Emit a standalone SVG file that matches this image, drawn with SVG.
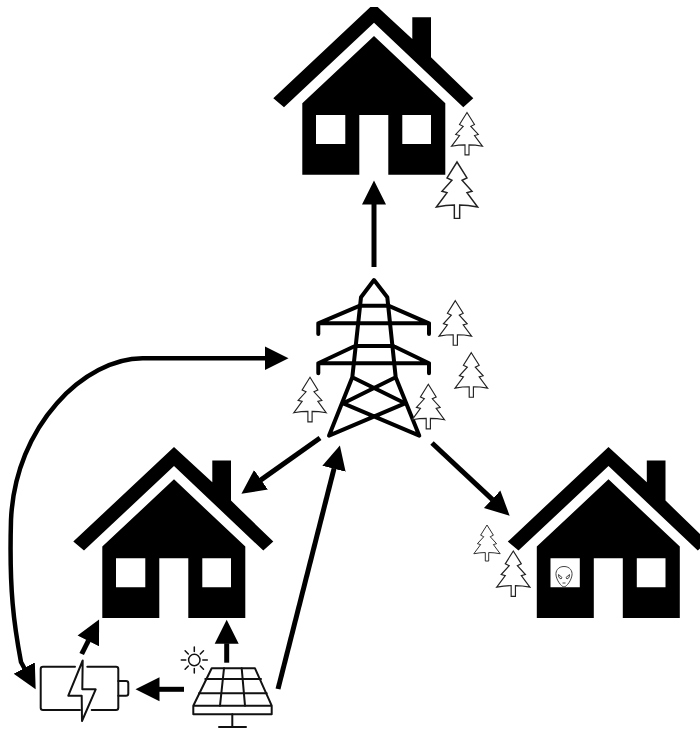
<svg xmlns="http://www.w3.org/2000/svg" width="700" height="730" viewBox="0 0 700 730">
  <style>
    .conn { fill: none; stroke: #000; stroke-width: 5; marker-end: url(#head); }
    .both { stroke-width: 4.5; marker-start: url(#head); }
    .tree { fill: #fff; stroke: #222; stroke-width: 1.1; stroke-linejoin: miter; }
    .tower { fill: none; stroke: #000; stroke-width: 4; stroke-linejoin: round; stroke-linecap: round; }
    .icon { fill: none; stroke: #111; stroke-width: 2; stroke-linejoin: round; stroke-linecap: round; }
  </style>
  <defs>
    <marker id="head" markerUnits="userSpaceOnUse" markerWidth="26" markerHeight="26" viewBox="0 0 26 26" refX="0.5" refY="13" orient="auto-start-reverse">
      <path d="M0,1 L24,13 L0,25 Z" fill="#000"/>
    </marker>
    <clipPath id="topclip"><rect x="0" y="7" width="700" height="723"/></clipPath>
    <g id="house">
      <path fill="#000" d="M273.3,98.3 L374,3.6 L412.3,39 V17.3 H431 V57.3 L473.3,98.3 L463.3,107.3 L374,22.7 L284,107.3 Z"/>
      <path fill="#000" fill-rule="evenodd" d="M374,36 L445.3,103.3 V174.7 H388.3 V115 H359.3 V174.7 H302.3 V103.3 Z M316,115 H345.3 V144 H316 Z M402.3,115 H431 V144 H402.3 Z"/>
    </g>
    <path id="tree" class="tree" d="M0,0 L7.5,12 L3.8,13.8 L11.3,22 L7.5,23 L15.5,33.8 Q8,32.4 2,32.4 V42.4 H-2 V32.4 Q-8,32.4 -15.5,33.8 L-7.5,23 L-11.3,22 L-3.8,13.8 L-7.5,12 Z"/>
  </defs>
  <rect width="700" height="730" fill="#fff"/>

  <g id="connectors">
    <path class="conn" d="M374,267 V204"/>
    <path class="conn both" d="M265,358.3 H143 C85,358 15,425 11,520 C9,590 14,625 21,662 L24.5,668.5"/>
    <path class="conn" d="M320,438 L260.6,480.1"/>
    <path class="conn" d="M432,443 L492.5,499.6"/>
    <path class="conn" d="M278,689 L334.1,468.3"/>
    <path class="conn" d="M81.7,654 L88.5,640.5"/>
    <path class="conn" d="M226.7,662.7 V643.3"/>
    <path class="conn" d="M184,689.3 H159"/>
  </g>

  <g id="house-top"><use href="#house" clip-path="url(#topclip)"/></g>
  <g id="house-left"><use href="#house" transform="translate(-200,443.3)"/></g>
  <g id="house-right">
    <use href="#house" transform="translate(234.5,443.3)"/>
    <g id="alien" fill="none" stroke="#444" stroke-width="1">
      <path d="M564,566.5 C570,566.5 572.5,571 572,575 C571.5,580 567,586.5 564,587 C561,586.5 556.5,580 556,575 C555.5,571 558,566.5 564,566.5 Z"/>
      <path d="M558.5,574.5 L562,577.5 L561,579 Q558,578 558.5,574.5 Z M569.5,574.5 L566,577.5 L567,579 Q570,578 569.5,574.5 Z"/>
      <path d="M562.5,583 H565.5"/>
    </g>
  </g>

  <g id="tower">
    <path class="tower" d="M352.3,377.3 L361,297.3 L374,280 L387.3,297.3 L395.7,377.3 L419.3,435.7 L343.3,403.3 L395.7,377.3 M352.3,377.3 L329,435.7 L405,403.3 L352.3,377.3"/>
    <path class="tower" d="M360,305.7 H388.3 M318.3,334 V323.3 H429 V334 M318.3,323.3 L360,305.7 M388.3,305.7 L429,323.3"/>
    <path class="tower" d="M355,346 H393.3 M318.3,373.3 V363.3 H429 V373.3 M318.3,363.3 L355,346 M393.3,346 L429,363.3"/>
  </g>

  <g id="trees-top">
    <use href="#tree" transform="translate(467,112.5)"/>
    <use href="#tree" transform="translate(457,162) scale(1.33)"/>
  </g>
  <g id="trees-tower">
    <use href="#tree" transform="translate(455.3,300.7) scale(1.05)"/>
    <use href="#tree" transform="translate(471.3,352.7) scale(1.05)"/>
    <use href="#tree" transform="translate(310,377.3) scale(1.05)"/>
    <use href="#tree" transform="translate(428.3,384.3) scale(1.05)"/>
  </g>
  <g id="trees-right">
    <use href="#tree" transform="translate(487,525) scale(0.85)"/>
    <use href="#tree" transform="translate(513.3,551) scale(1.07)"/>
  </g>

  <g id="battery">
    <path class="icon" d="M75,666.7 H43 Q40.7,666.7 40.7,669 V707.7 Q40.7,710 43,710 H80 M91.7,710 H116 Q118.3,710 118.3,707.7 V669 Q118.3,666.7 116,666.7 H87.3"/>
    <path class="icon" d="M118.3,681 H126 Q128.3,681 128.3,683.3 V693.4 Q128.3,695.7 126,695.7 H118.3"/>
    <path class="icon" d="M82.7,660.5 L68.3,695.7 H81.7 L82,721 L95.7,689.3 H82.3 Z"/>
  </g>

  <g id="solar-panel">
    <path class="icon" d="M211.7,668.3 H255 L271.7,705.7 H193.3 Z M193.3,705.7 V714.3 H271.7 V705.7"/>
    <path class="icon" d="M205.3,679 H261 M199,693.3 H266.7 M224,668.3 L220,705.7 M241.7,668.3 L245,705.7"/>
    <path class="icon" d="M232.3,714.3 V727 M219,727 H246"/>
  </g>

  <g id="sun" fill="none" stroke="#111" stroke-width="1.5" stroke-linecap="round">
    <circle cx="194.3" cy="660" r="5.7"/>
    <path d="M194.3,647 V651.5 M194.3,668.5 V673 M181.3,660 H185.8 M202.8,660 H207.3 M185.1,650.8 L188.3,654 M200.3,666 L203.5,669.2 M185.1,669.2 L188.3,666 M200.3,654 L203.5,650.8"/>
  </g>
</svg>
